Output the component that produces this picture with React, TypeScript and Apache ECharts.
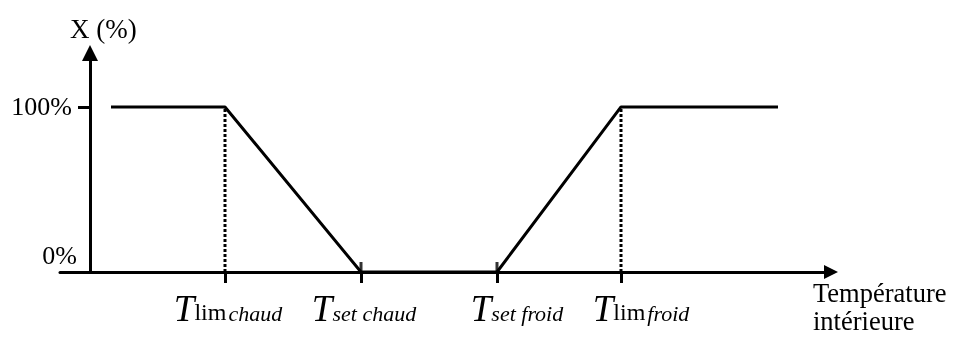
import React, { useEffect, useRef } from "react";
import * as echarts from "echarts";

// Schematic temperature positions (arbitrary units) and control fraction X (%)
const curveX = [2.1, 13.5, 27.1, 40.7, 53.1, 68.8];
const curveY = [100, 100, 0, 0, 100, 100];
const tickValues = [13.5, 27.1, 40.7, 53.1];
const tickLabels = [
  "{T|T}{r|lim}{i|chaud}",
  "{T|T}{s|set chaud}",
  "{Tf|T}{s|set froid}",
  "{Tf|T}{r|lim}{i|froid}",
];
const setpointValues = [27.1, 40.7];
const limitValues = [13.5, 53.1];
const yTickValues = [0, 100];
const yTickLabels = ["{z|0%}", "{h|100%}"];

const FONT = "'Liberation Serif', 'Times New Roman', serif";

export default function App() {
  const ref = useRef<HTMLDivElement>(null);
  useEffect(() => {
    if (!ref.current) return;
    const chart = echarts.init(ref.current, undefined, { renderer: "svg" });
    const arrow = "path://M5,0 L10,10 L0,10 Z";
    const series: any[] = [];
    limitValues.forEach((v) => {
      series.push({
        type: "line",
        data: [
          [v, 0],
          [v, 100],
        ],
        symbol: "none",
        lineStyle: { color: "#000", width: 3, type: [3, 2] },
        z: 1,
      });
    });
    series.push({
      type: "line",
      data: curveX.map((x, i) => [x, curveY[i]]),
      symbol: "none",
      lineStyle: { color: "#000", width: 3 },
      z: 3,
    });
    series.push({
      type: "scatter",
      data: setpointValues.map((v) => [v, 0]),
      symbol: "rect",
      symbolSize: [3, 10],
      symbolOffset: [0, -5],
      itemStyle: { color: "#000" },
      clip: false,
      silent: true,
      z: 4,
    });
    const small = {
      fontFamily: FONT,
      color: "#000",
      verticalAlign: "bottom",
    };
    chart.setOption({
      animation: false,
      textStyle: { fontFamily: FONT },
      grid: {
        left: 60,
        right: 123,
        top: 53,
        bottom: 68,
        containLabel: false,
        outerBoundsMode: "none",
      },
      xAxis: {
        type: "value",
        min: -3.0,
        max: 74.1,
        splitLine: { show: false },
        axisLine: {
          onZero: true,
          lineStyle: { color: "#000", width: 3 },
          symbol: ["none", arrow],
          symbolSize: [14, 18],
        },
        axisTick: {
          show: true,
          customValues: tickValues,
          length: 11,
          lineStyle: { color: "#000", width: 3 },
        },
        axisLabel: {
          show: true,
          customValues: tickValues,
          margin: 18,
          color: "#000",
          formatter: (v: number) => {
            const i = tickValues.findIndex((t) => Math.abs(t - v) < 0.01);
            return i >= 0 ? tickLabels[i] : "";
          },
          rich: {
            T: { fontSize: 37, fontStyle: "italic", fontFamily: FONT, color: "#000", verticalAlign: "bottom", padding: [0, 0, 0, 6] },
            Tf: { fontSize: 37, fontStyle: "italic", fontFamily: FONT, color: "#000", verticalAlign: "bottom", padding: [0, 0, 0, 40] },
            r: { ...small, fontSize: 24, padding: [0, 0, 3, 0] },
            i: { ...small, fontSize: 22, fontStyle: "italic", padding: [0, 0, 3, 2] },
            s: { ...small, fontSize: 22, fontStyle: "italic", padding: [0, 0, 3, 0] },
          },
        },
      },
      yAxis: {
        type: "value",
        min: 0,
        max: 132.7,
        splitLine: { show: false },
        axisLine: {
          onZero: true,
          lineStyle: { color: "#000", width: 3 },
          symbol: ["none", arrow],
          symbolSize: [16, 17],
        },
        axisTick: {
          show: true,
          customValues: [100],
          length: 12,
          lineStyle: { color: "#000", width: 3 },
        },
        axisLabel: {
          show: true,
          customValues: yTickValues,
          margin: -17,
          color: "#000",
          formatter: (v: number) => {
            const i = yTickValues.findIndex((t) => Math.abs(t - v) < 0.01);
            return i >= 0 ? yTickLabels[i] : "";
          },
          rich: {
            z: { fontSize: 26, fontFamily: FONT, color: "#000", padding: [0, 0, 34, 0] },
            h: { fontSize: 26, fontFamily: FONT, color: "#000", padding: [0, 5, 0, 0] },
          },
        },
      },
      graphic: [
        {
          type: "text",
          left: 70,
          top: 15,
          style: { text: "X (%)", font: `27px ${FONT}`, fill: "#000" },
        },
        {
          type: "text",
          x: 813,
          y: 293,
          style: {
            text: "Température",
            font: `26.5px ${FONT}`,
            fill: "#000",
            verticalAlign: "middle",
          },
        },
        {
          type: "text",
          x: 813,
          y: 321,
          style: {
            text: "intérieure",
            font: `26.5px ${FONT}`,
            fill: "#000",
            verticalAlign: "middle",
          },
        },
      ],
      series,
    });
    return () => chart.dispose();
  }, []);
  return (
    <div
      ref={ref}
      style={{ position: "fixed", left: 0, top: 0, width: 954, height: 340 }}
    />
  );
}
